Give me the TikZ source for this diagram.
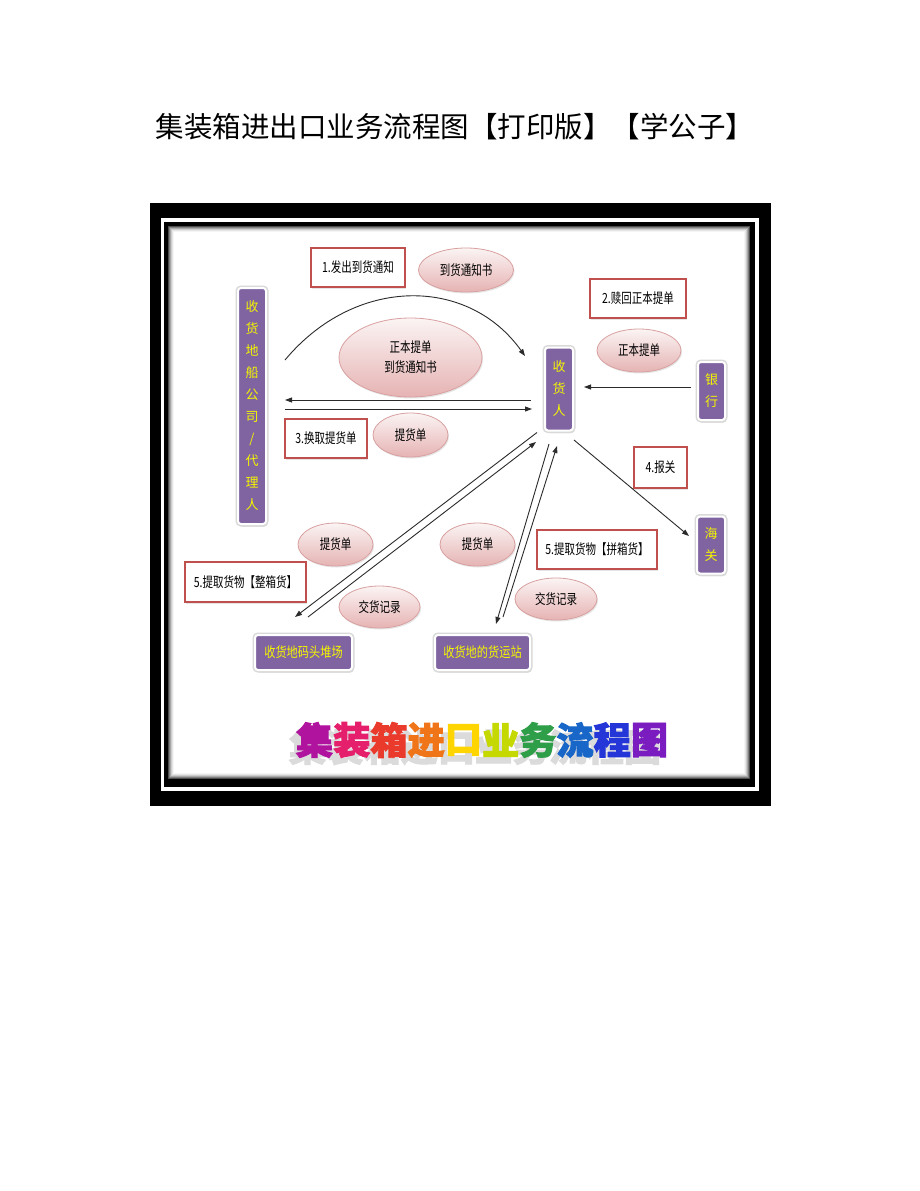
\documentclass[tikz,border=0pt]{standalone}
\usepackage{fontspec}
\setmainfont{Noto Sans CJK SC}
\newfontfamily\heavy{Noto Sans CJK SC}[BoldFeatures={FakeBold=2.5}]
\usetikzlibrary{arrows.meta,shadows,shapes.geometric,calc}
\definecolor{purp}{HTML}{8064A2}
\definecolor{yel}{HTML}{F5F500}
\definecolor{redb}{HTML}{C0504D}
\definecolor{pinkb}{HTML}{E6B3B3}
\definecolor{pinkd}{HTML}{D9A0A0}
\definecolor{ln}{HTML}{2B2B2B}
\definecolor{cA}{HTML}{B0149E}
\definecolor{cB}{HTML}{E51F6B}
\definecolor{cC}{HTML}{EA3A2C}
\definecolor{cD}{HTML}{F07518}
\definecolor{cE}{HTML}{FFD500}
\definecolor{cF}{HTML}{C5D800}
\definecolor{cG}{HTML}{2E9E48}
\definecolor{cH}{HTML}{1866C8}
\definecolor{cI}{HTML}{2436D8}
\definecolor{cJ}{HTML}{7A1CC0}
\newcommand\sx[1]{\scalebox{0.75}[1]{#1}}
\newcommand\sy[1]{\scalebox{0.8}[1]{#1}}
\begin{document}
\begin{tikzpicture}[x=1pt,y=-1pt,
  pbox/.style={rectangle, rounded corners=3pt, fill=purp, draw=white, line width=2pt,
    drop shadow={shadow xshift=1.5pt, shadow yshift=-2.5pt, opacity=0.3},
    preaction={draw=black!15, line width=5pt},
    text=yel, font=\fontsize{14}{22}\selectfont, inner sep=0pt, align=center},
  vbox/.style={pbox, font=\fontsize{13}{22}\selectfont},
  rbox/.style={rectangle, fill=white, draw=redb, line width=2.2pt,
    drop shadow={shadow xshift=1pt, shadow yshift=-1.5pt, opacity=0.2},
    font=\fontsize{14}{16}\selectfont, inner sep=0pt, align=center},
  ell/.style={ellipse, draw=pinkd, line width=0.8pt, top color=white!85!pinkb, bottom color=pinkb,
    drop shadow={shadow xshift=1pt, shadow yshift=-1.5pt, opacity=0.2},
    font=\fontsize{14}{20}\selectfont, inner sep=0pt, align=center},
  arr/.style={draw=ln, line width=0.9pt, -{Triangle[length=7pt,width=5pt]}},
  ttl/.style={font=\heavy\bfseries\fontsize{37.2}{40}\selectfont, inner sep=0pt}
]
\useasboundingbox (0,0) rectangle (920,1191);
\fill[white] (0,0) rectangle (920,1191);

% title
\node[inner sep=0pt, font=\fontsize{28.5}{30}\selectfont] (title) at (455,127) {集装箱进出口业务流程图【打印版】【学公子】};

% frame
\fill[black] (150,203) rectangle (771,806);
\draw[white, line width=3.5pt] (162.5,220) rectangle (757,789);
\fill[white] (168,226) rectangle (750,779);
\foreach \i/\c in {0/70,1/50,2/34,3/20,4/10,5/4}
  \draw[black!\c, line width=1pt] (168.5+\i,226.5+\i) rectangle (749.5-\i,778.5-\i);

% purple boxes
\node[vbox, minimum width=28pt, minimum height=236pt] (ship) at (252,406)
  {收\\货\\地\\船\\公\\司\\/\\代\\理\\人};
\node[vbox, minimum width=28pt, minimum height=83pt] (recv) at (559,389) {收\\货\\人};
\node[vbox, minimum width=27pt, minimum height=58pt] (bank) at (711.5,391) {银\\行};
\node[vbox, minimum width=28pt, minimum height=57pt] (cust) at (711,545) {海\\关};
\node[pbox, minimum width=97pt, minimum height=35pt] (yard) at (303.5,652.5) {\sy{收货地码头堆场}};
\node[pbox, minimum width=95pt, minimum height=35pt] (stat) at (482.5,652.5) {\sy{收货地的货运站}};

% red boxes
\node[rbox, minimum width=94pt, minimum height=39pt] (r1) at (358,267.5) {\sx{1.发出到货通知}};
\node[rbox, minimum width=96pt, minimum height=39pt] (r2) at (638,298.5) {\sx{2.赎回正本提单}};
\node[rbox, minimum width=82pt, minimum height=39pt] (r3) at (326,438.5) {\sx{3.换取提货单}};
\node[rbox, minimum width=53pt, minimum height=41pt] (r4) at (660.5,467.5) {\sx{4.报关}};
\node[rbox, minimum width=121pt, minimum height=40pt] (r5a) at (245.5,582) {\sx{5.提取货物【整箱货】}};
\node[rbox, minimum width=120pt, minimum height=39pt] (r5b) at (597,549.5) {\sx{5.提取货物【拼箱货】}};

% ellipses
\node[ell, minimum width=95pt, minimum height=44pt] (e1) at (466,270) {\sx{到货通知书}};
\node[ell, minimum width=143pt, minimum height=79pt] (e2) at (410.5,357.5) {\sx{正本提单}\\\sx{到货通知书}};
\node[ell, minimum width=84pt, minimum height=43pt] (e3) at (639,350.5) {\sx{正本提单}};
\node[ell, minimum width=75pt, minimum height=44pt] (e4) at (410.5,435) {\sx{提货单}};
\node[ell, minimum width=75pt, minimum height=43pt] (e5) at (335.5,544.5) {\sx{提货单}};
\node[ell, minimum width=75pt, minimum height=43pt] (e6) at (477.5,544.5) {\sx{提货单}};
\node[ell, minimum width=81pt, minimum height=42pt] (e7) at (379.5,607) {\sx{交货记录}};
\node[ell, minimum width=82pt, minimum height=42pt] (e8) at (556,599) {\sx{交货记录}};

% connectors
\draw[arr] ($(ship.east)+(18,-46)$) .. controls (355,276) and (468,276) .. ($(recv.west)+(-19,-33)$);
\draw[arr] ($(recv.west)+(-13,11)$) -- ($(ship.east)+(18,-6)$);
\draw[arr] ($(ship.east)+(18,3)$) -- ($(recv.west)+(-12,20)$);
\draw[arr] ($(bank.west)+(-6,-4)$) -- ($(recv.east)+(10,-2)$);
\draw[arr] ($(recv.south east)+(0,8.5)$) -- ($(cust.west)+(-7,-9)$);
\draw[arr] ($(recv.south)+(-22,1)$) -- ($(yard.north)+(-8.5,-17)$);
\draw[arr] ($(yard.north)+(4.5,-17)$) -- ($(recv.south)+(-23,10.5)$);
\draw[arr] ($(recv.south)+(-10,12.5)$) -- ($(stat.north)+(13.5,-10)$);
\draw[arr] ($(stat.north)+(20.5,-17)$) -- ($(recv.south)+(-2,14.5)$);

% colourful bottom title with its soft shadow
\node[ttl, text=black!14] (bshadow) at (482-7,740+7) {集装箱进口业务流程图};
\foreach \ch/\col [count=\i from 0] in {集/cA,装/cB,箱/cC,进/cD,口/cE,业/cF,务/cG,流/cH,程/cI,图/cJ}{
  \node[ttl, text=\col] (bt\i) at (314.6+37.2*\i,740) {\ch};
}
\end{tikzpicture}
\end{document}
